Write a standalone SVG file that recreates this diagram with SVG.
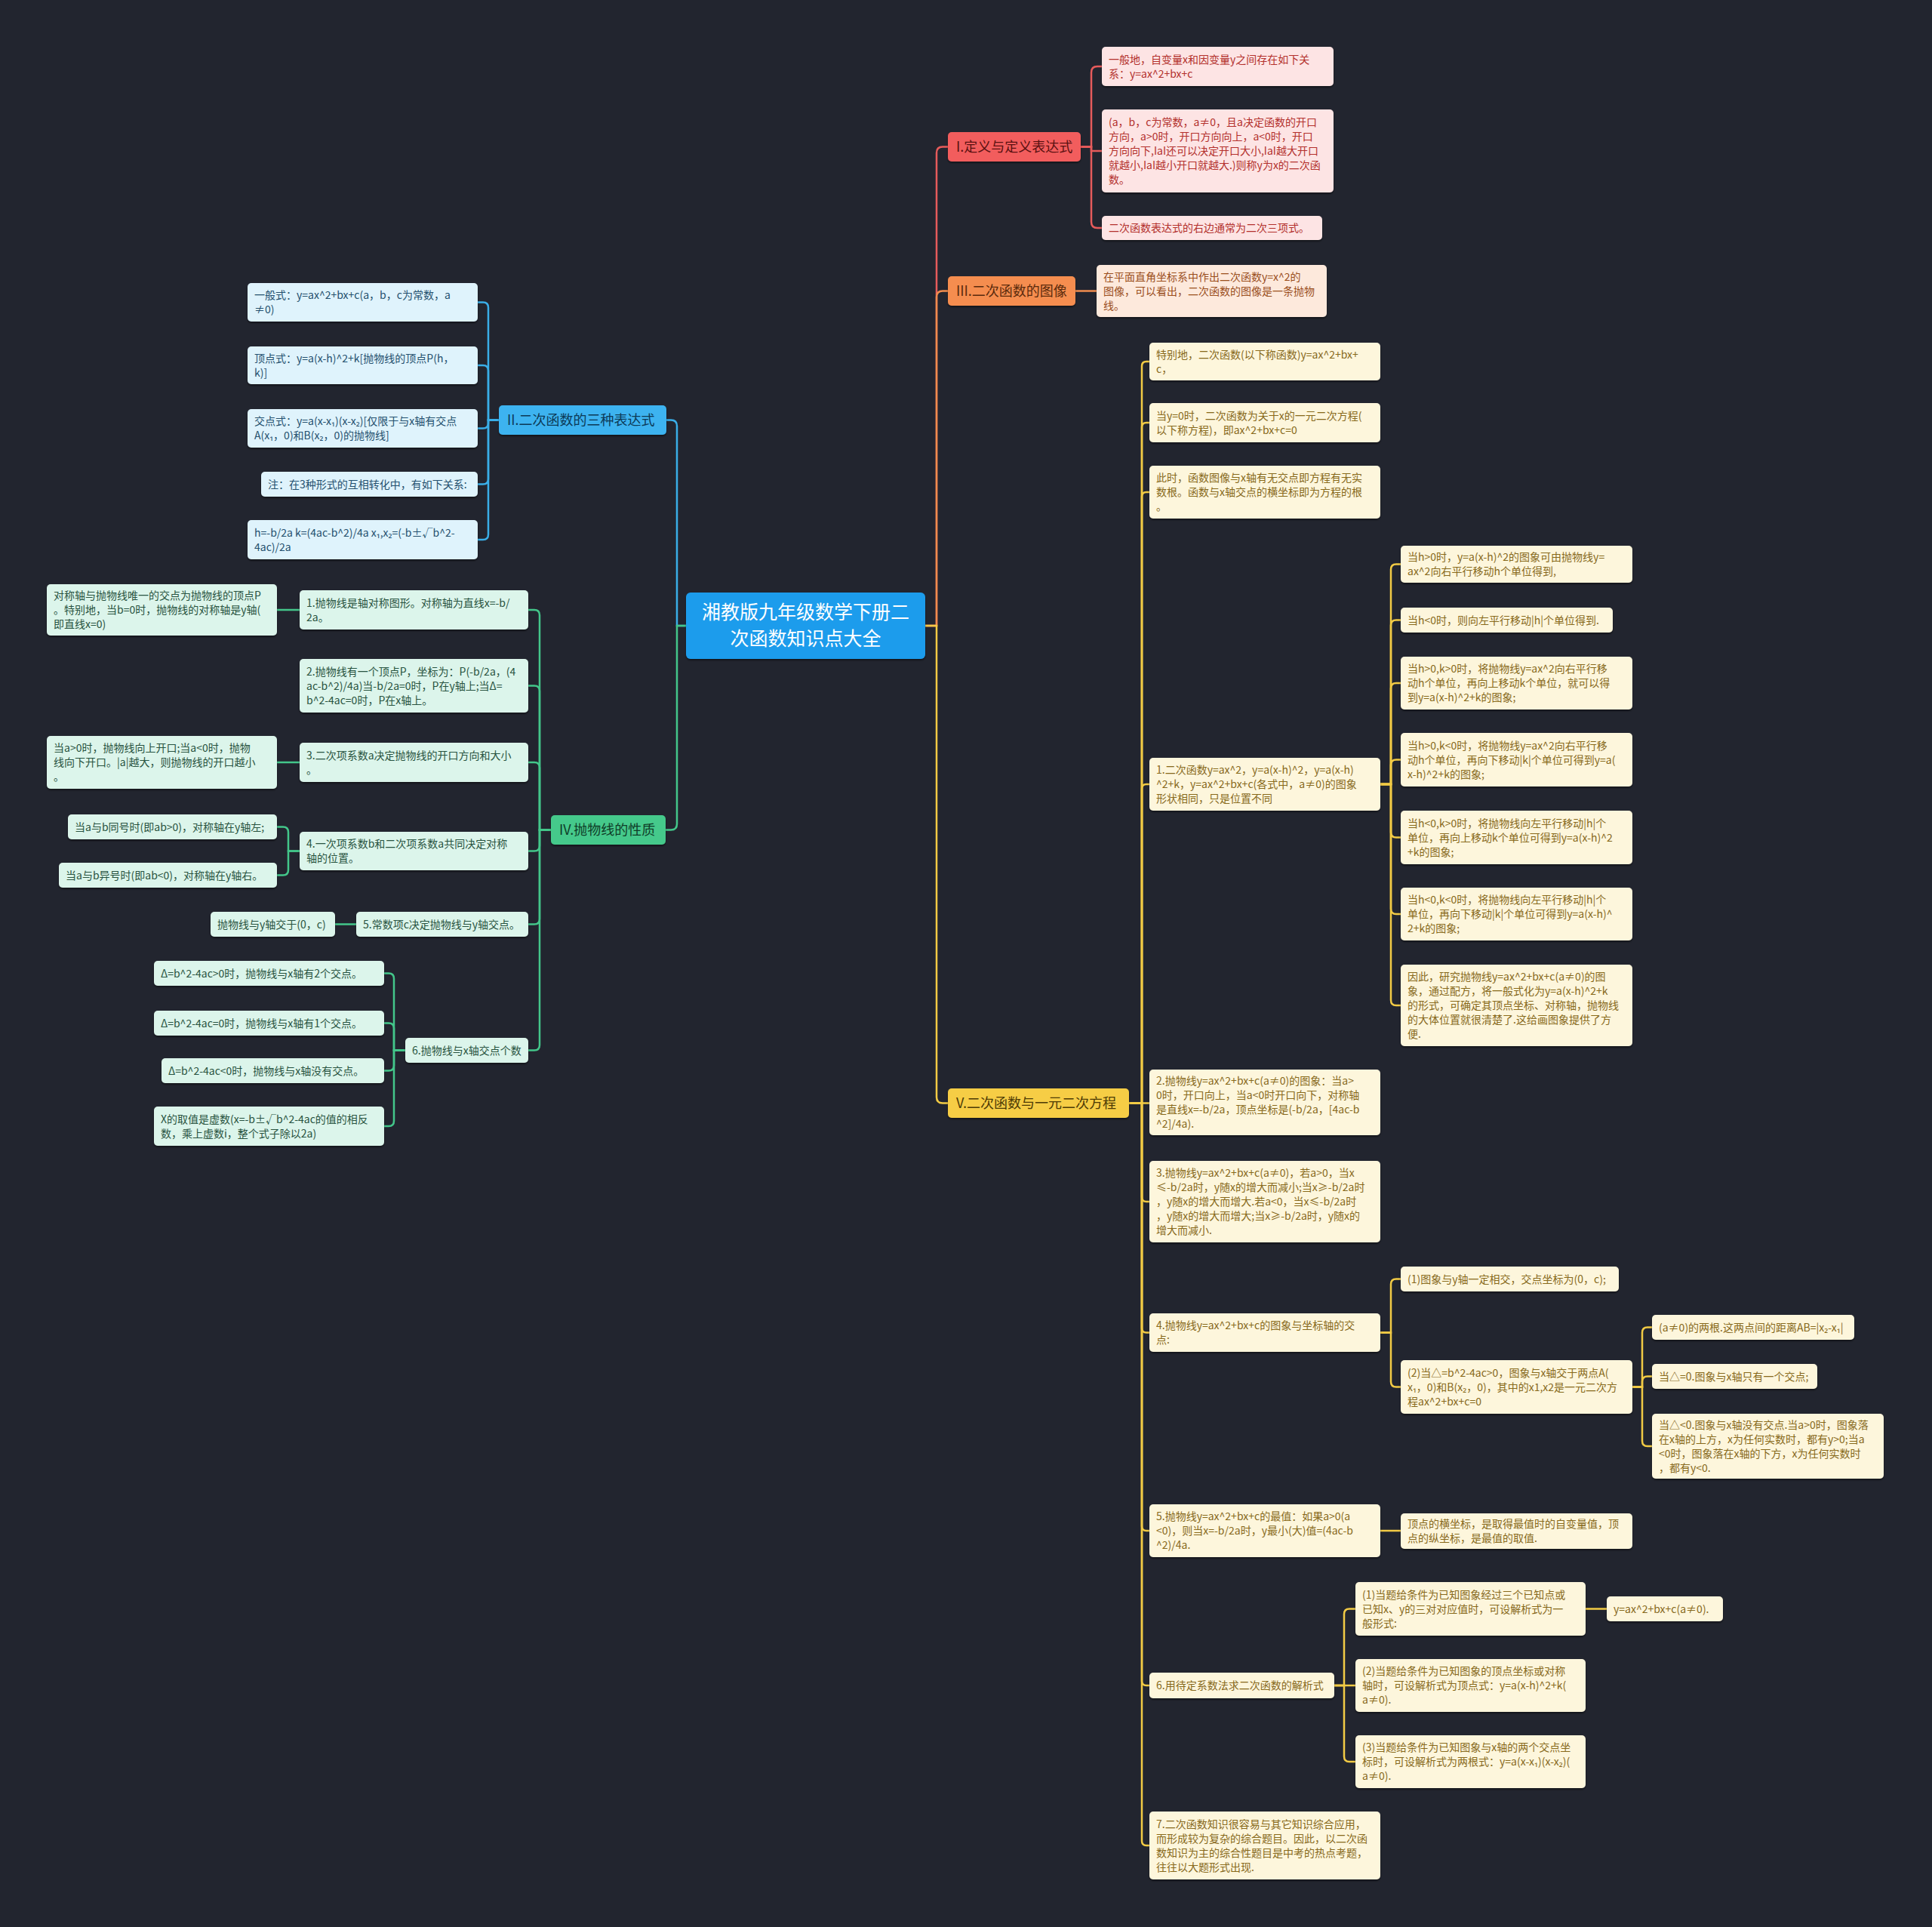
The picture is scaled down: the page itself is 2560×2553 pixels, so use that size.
<svg xmlns="http://www.w3.org/2000/svg" width="2560" height="2553" viewBox="0 0 2560 2553">
<defs>
<filter id="sh" x="-5%" y="-20%" width="110%" height="150%"><feDropShadow dx="0" dy="2" stdDeviation="1.2" flood-color="#000" flood-opacity="0.45"/></filter>
<style>
text{font-family:"Noto Sans CJK SC","Noto Sans",sans-serif;font-size:14px}
rect{filter:url(#sh)}
.m{font-size:18px}
.root text{font-size:25px;fill:#ffffff;text-anchor:middle}
.cn path{fill:none;stroke-width:2.5;stroke-linecap:round}
.lr{stroke:#e65b5b}.lo{stroke:#f08c4e}.ly{stroke:#f2cb45}.lb{stroke:#3aaee8}.lg{stroke:#43c68a}
.br rect{fill:#f25d5d}.br text{fill:#5a1111}
.bo rect{fill:#f58d4f}.bo text{fill:#5a2a0c}
.by rect{fill:#f6cd45}.by text{fill:#4d3b05}
.bb rect{fill:#3cb3f0}.bb text{fill:#0c3a57}
.bg rect{fill:#44c98b}.bg text{fill:#0f3d28}
.cr rect{fill:#fde4e4}.cr text{fill:#b3302c}
.co rect{fill:#fde9dc}.co text{fill:#9a4e1c}
.cy rect{fill:#fdf6dc}.cy text{fill:#87691b}
.cb rect{fill:#dff3fc}.cb text{fill:#24506e}
.cg rect{fill:#dcf5eb}.cg text{fill:#285340}
</style>
</defs>
<rect x="0" y="0" width="2560" height="2553" fill="#22252f" style="filter:none"/>

<g id="connectors" class="cn">
<path class="lr" d="M1226 829 H1241 V202.5 Q1241 194.5 1249 194.5 H1256"/>
<path class="lo" d="M1226 829 H1241 V393.5 Q1241 385.5 1249 385.5 H1256"/>
<path class="ly" d="M1226 829 H1241 V1453.5 Q1241 1461.5 1249 1461.5 H1256"/>
<path class="lb" d="M909 829 H897 V564.5 Q897 556.5 889 556.5 H883"/>
<path class="lg" d="M909 829 H897 V1091.5 Q897 1099.5 889 1099.5 H882"/>

<path class="lr" d="M1432 194.5 H1446 V96 Q1446 88 1454 88 H1460"/>
<path class="lr" d="M1432 194.5 H1446 V200 H1460"/>
<path class="lr" d="M1432 194.5 H1446 V294 Q1446 302 1454 302 H1460"/>
<path class="lo" d="M1425 385.5 H1453"/>

<path class="ly" d="M1496 1461.5 H1513 V485 Q1513 479 1519 479 H1523"/>
<path class="ly" d="M1496 1461.5 H1513 V566 Q1513 560 1519 560 H1523"/>
<path class="ly" d="M1496 1461.5 H1513 V658 Q1513 652 1519 652 H1523"/>
<path class="ly" d="M1496 1461.5 H1513 V1045 Q1513 1039 1519 1039 H1523"/>
<path class="ly" d="M1496 1461.5 H1523"/>
<path class="ly" d="M1496 1461.5 H1513 V1586 Q1513 1592 1519 1592 H1523"/>
<path class="ly" d="M1496 1461.5 H1513 V1759.5 Q1513 1765.5 1519 1765.5 H1523"/>
<path class="ly" d="M1496 1461.5 H1513 V2022 Q1513 2028 1519 2028 H1523"/>
<path class="ly" d="M1496 1461.5 H1513 V2227 Q1513 2233 1519 2233 H1523"/>
<path class="ly" d="M1496 1461.5 H1513 V2439 Q1513 2445 1519 2445 H1523"/>

<path class="ly" d="M1829 1039 H1843 V754.5 Q1843 747.5 1850 747.5 H1856"/>
<path class="ly" d="M1829 1039 H1843 V828.5 Q1843 821.5 1850 821.5 H1856"/>
<path class="ly" d="M1829 1039 H1843 V912 Q1843 905 1850 905 H1856"/>
<path class="ly" d="M1829 1039 H1843 V1013.5 Q1843 1006.5 1850 1006.5 H1856"/>
<path class="ly" d="M1829 1039 H1843 V1102.5 Q1843 1109.5 1850 1109.5 H1856"/>
<path class="ly" d="M1829 1039 H1843 V1204 Q1843 1211 1850 1211 H1856"/>
<path class="ly" d="M1829 1039 H1843 V1325 Q1843 1332 1850 1332 H1856"/>

<path class="ly" d="M1829 1765.5 H1843 V1701.5 Q1843 1694.5 1850 1694.5 H1856"/>
<path class="ly" d="M1829 1765.5 H1843 V1830.5 Q1843 1837.5 1850 1837.5 H1856"/>
<path class="ly" d="M2163 1837.5 H2176 V1765.5 Q2176 1758.5 2183 1758.5 H2189"/>
<path class="ly" d="M2163 1837.5 H2176 V1830.5 Q2176 1823.5 2183 1823.5 H2189"/>
<path class="ly" d="M2163 1837.5 H2176 V1909 Q2176 1916 2183 1916 H2189"/>

<path class="ly" d="M1829 2028 H1856"/>
<path class="ly" d="M1768 2233 H1781 V2138.5 Q1781 2131.5 1788 2131.5 H1796"/>
<path class="ly" d="M1768 2233 H1796"/>
<path class="ly" d="M1768 2233 H1781 V2327 Q1781 2334 1788 2334 H1796"/>
<path class="ly" d="M2101 2131.5 H2129"/>

<path class="lb" d="M661 556.5 H647 V407.5 Q647 400.5 640 400.5 H633"/>
<path class="lb" d="M661 556.5 H647 V491 Q647 484 640 484 H633"/>
<path class="lb" d="M661 556.5 H647 V560.5 Q647 567.5 640 567.5 H633"/>
<path class="lb" d="M661 556.5 H647 V634.5 Q647 641.5 640 641.5 H633"/>
<path class="lb" d="M661 556.5 H647 V708 Q647 715 640 715 H633"/>

<path class="lg" d="M730 1099.5 H715 V815 Q715 808 708 808 H700"/>
<path class="lg" d="M730 1099.5 H715 V915.5 Q715 908.5 708 908.5 H700"/>
<path class="lg" d="M730 1099.5 H715 V1017 Q715 1010 708 1010 H700"/>
<path class="lg" d="M730 1099.5 H715 V1120.5 Q715 1127.5 708 1127.5 H700"/>
<path class="lg" d="M730 1099.5 H715 V1217.5 Q715 1224.5 708 1224.5 H700"/>
<path class="lg" d="M730 1099.5 H715 V1384.5 Q715 1391.5 708 1391.5 H700"/>
<path class="lg" d="M397 808 H367"/>
<path class="lg" d="M397 1010 H367"/>
<path class="lg" d="M397 1127.5 H382 V1102.5 Q382 1095.5 375 1095.5 H367"/>
<path class="lg" d="M397 1127.5 H382 V1152.5 Q382 1159.5 375 1159.5 H367"/>
<path class="lg" d="M472 1224.5 H444"/>
<path class="lg" d="M537 1391.5 H522 V1296.5 Q522 1289.5 515 1289.5 H509"/>
<path class="lg" d="M537 1391.5 H522 V1362.5 Q522 1355.5 515 1355.5 H509"/>
<path class="lg" d="M537 1391.5 H522 V1411.5 Q522 1418.5 515 1418.5 H509"/>
<path class="lg" d="M537 1391.5 H522 V1485 Q522 1492 515 1492 H509"/>
</g>

<g id="root" class="root"><rect x="909" y="785" width="317" height="88" rx="6" fill="#1f9cec"/><text><tspan x="1067.5" y="820">湘教版九年级数学下册二</tspan><tspan x="1067.5" y="855">次函数知识点大全</tspan></text></g>

<g id="b1" class="br"><rect x="1256" y="175" width="176" height="39" rx="5"/><text class="m" x="1267" y="201">I.定义与定义表达式</text></g>
<g id="b1-1" class="cr"><rect x="1460" y="62" width="307" height="52" rx="5"/><text><tspan x="1469" y="83.5">一般地，自变量x和因变量y之间存在如下关</tspan><tspan x="1469" y="102.5">系：y=ax^2+bx+c</tspan></text></g>
<g id="b1-2" class="cr"><rect x="1460" y="145" width="307" height="110" rx="5"/><text><tspan x="1469" y="167">(a，b，c为常数，a≠0，且a决定函数的开口</tspan><tspan x="1469" y="186">方向，a&gt;0时，开口方向向上，a&lt;0时，开口</tspan><tspan x="1469" y="205">方向向下,IaI还可以决定开口大小,IaI越大开口</tspan><tspan x="1469" y="224">就越小,IaI越小开口就越大.)则称y为x的二次函</tspan><tspan x="1469" y="243">数。</tspan></text></g>
<g id="b1-3" class="cr"><rect x="1460" y="286" width="292" height="32" rx="5"/><text x="1469" y="307">二次函数表达式的右边通常为二次三项式。</text></g>

<g id="b3" class="bo"><rect x="1256" y="366" width="169" height="39" rx="5"/><text class="m" x="1267" y="392">III.二次函数的图像</text></g>
<g id="b3-1" class="co"><rect x="1453" y="351" width="305" height="69" rx="5"/><text><tspan x="1462" y="371.5">在平面直角坐标系中作出二次函数y=x^2的</tspan><tspan x="1462" y="390.5">图像，可以看出，二次函数的图像是一条抛物</tspan><tspan x="1462" y="409.5">线。</tspan></text></g>

<g id="b5" class="by"><rect x="1256" y="1442" width="240" height="39" rx="5"/><text class="m" x="1267" y="1468">V.二次函数与一元二次方程</text></g>
<g id="b5-1" class="cy"><rect x="1523" y="454" width="306" height="50" rx="5"/><text><tspan x="1532" y="474.5">特别地，二次函数(以下称函数)y=ax^2+bx+</tspan><tspan x="1532" y="493.5">c，</tspan></text></g>
<g id="b5-2" class="cy"><rect x="1523" y="534" width="306" height="52" rx="5"/><text><tspan x="1532" y="555.5">当y=0时，二次函数为关于x的一元二次方程(</tspan><tspan x="1532" y="574.5">以下称方程)，即ax^2+bx+c=0</tspan></text></g>
<g id="b5-3" class="cy"><rect x="1523" y="617" width="306" height="70" rx="5"/><text><tspan x="1532" y="638">此时，函数图像与x轴有无交点即方程有无实</tspan><tspan x="1532" y="657">数根。函数与x轴交点的横坐标即为方程的根</tspan><tspan x="1532" y="676">。</tspan></text></g>
<g id="b5-4" class="cy"><rect x="1523" y="1004" width="306" height="70" rx="5"/><text><tspan x="1532" y="1025">1.二次函数y=ax^2，y=a(x-h)^2，y=a(x-h)</tspan><tspan x="1532" y="1044">^2+k，y=ax^2+bx+c(各式中，a≠0)的图象</tspan><tspan x="1532" y="1063">形状相同，只是位置不同</tspan></text></g>
<g id="b5-4-1" class="cy"><rect x="1856" y="723" width="307" height="49" rx="5"/><text><tspan x="1865" y="743">当h&gt;0时，y=a(x-h)^2的图象可由抛物线y=</tspan><tspan x="1865" y="762">ax^2向右平行移动h个单位得到,</tspan></text></g>
<g id="b5-4-2" class="cy"><rect x="1856" y="805" width="281" height="33" rx="5"/><text x="1865" y="826.5">当h&lt;0时，则向左平行移动|h|个单位得到.</text></g>
<g id="b5-4-3" class="cy"><rect x="1856" y="870" width="307" height="70" rx="5"/><text><tspan x="1865" y="891">当h&gt;0,k&gt;0时，将抛物线y=ax^2向右平行移</tspan><tspan x="1865" y="910">动h个单位，再向上移动k个单位，就可以得</tspan><tspan x="1865" y="929">到y=a(x-h)^2+k的图象;</tspan></text></g>
<g id="b5-4-4" class="cy"><rect x="1856" y="971" width="307" height="71" rx="5"/><text><tspan x="1865" y="992.5">当h&gt;0,k&lt;0时，将抛物线y=ax^2向右平行移</tspan><tspan x="1865" y="1011.5">动h个单位，再向下移动|k|个单位可得到y=a(</tspan><tspan x="1865" y="1030.5">x-h)^2+k的图象;</tspan></text></g>
<g id="b5-4-5" class="cy"><rect x="1856" y="1074" width="307" height="71" rx="5"/><text><tspan x="1865" y="1095.5">当h&lt;0,k&gt;0时，将抛物线向左平行移动|h|个</tspan><tspan x="1865" y="1114.5">单位，再向上移动k个单位可得到y=a(x-h)^2</tspan><tspan x="1865" y="1133.5">+k的图象;</tspan></text></g>
<g id="b5-4-6" class="cy"><rect x="1856" y="1176" width="307" height="70" rx="5"/><text><tspan x="1865" y="1197">当h&lt;0,k&lt;0时，将抛物线向左平行移动|h|个</tspan><tspan x="1865" y="1216">单位，再向下移动|k|个单位可得到y=a(x-h)^</tspan><tspan x="1865" y="1235">2+k的图象;</tspan></text></g>
<g id="b5-4-7" class="cy"><rect x="1856" y="1278" width="307" height="108" rx="5"/><text><tspan x="1865" y="1299">因此，研究抛物线y=ax^2+bx+c(a≠0)的图</tspan><tspan x="1865" y="1318">象，通过配方，将一般式化为y=a(x-h)^2+k</tspan><tspan x="1865" y="1337">的形式，可确定其顶点坐标、对称轴，抛物线</tspan><tspan x="1865" y="1356">的大体位置就很清楚了.这给画图象提供了方</tspan><tspan x="1865" y="1375">便.</tspan></text></g>
<g id="b5-5" class="cy"><rect x="1523" y="1417" width="306" height="87" rx="5"/><text><tspan x="1532" y="1437">2.抛物线y=ax^2+bx+c(a≠0)的图象：当a&gt;</tspan><tspan x="1532" y="1456">0时，开口向上，当a&lt;0时开口向下，对称轴</tspan><tspan x="1532" y="1475">是直线x=-b/2a，顶点坐标是(-b/2a，[4ac-b</tspan><tspan x="1532" y="1494">^2]/4a).</tspan></text></g>
<g id="b5-6" class="cy"><rect x="1523" y="1538" width="306" height="108" rx="5"/><text><tspan x="1532" y="1559">3.抛物线y=ax^2+bx+c(a≠0)，若a&gt;0，当x</tspan><tspan x="1532" y="1578">≤-b/2a时，y随x的增大而减小;当x≥-b/2a时</tspan><tspan x="1532" y="1597">，y随x的增大而增大.若a&lt;0，当x≤-b/2a时</tspan><tspan x="1532" y="1616">，y随x的增大而增大;当x≥-b/2a时，y随x的</tspan><tspan x="1532" y="1635">增大而减小.</tspan></text></g>
<g id="b5-7" class="cy"><rect x="1523" y="1740" width="306" height="51" rx="5"/><text><tspan x="1532" y="1761">4.抛物线y=ax^2+bx+c的图象与坐标轴的交</tspan><tspan x="1532" y="1780">点:</tspan></text></g>
<g id="b5-7-1" class="cy"><rect x="1856" y="1678" width="289" height="33" rx="5"/><text x="1865" y="1699.5">(1)图象与y轴一定相交，交点坐标为(0，c);</text></g>
<g id="b5-7-2" class="cy"><rect x="1856" y="1802" width="307" height="71" rx="5"/><text><tspan x="1865" y="1823.5">(2)当△=b^2-4ac&gt;0，图象与x轴交于两点A(</tspan><tspan x="1865" y="1842.5">x₁，0)和B(x₂，0)，其中的x1,x2是一元二次方</tspan><tspan x="1865" y="1861.5">程ax^2+bx+c=0</tspan></text></g>
<g id="b5-7-2-1" class="cy"><rect x="2189" y="1742" width="268" height="33" rx="5"/><text x="2198" y="1763.5">(a≠0)的两根.这两点间的距离AB=|x₂-x₁|</text></g>
<g id="b5-7-2-2" class="cy"><rect x="2189" y="1807" width="219" height="33" rx="5"/><text x="2198" y="1828.5">当△=0.图象与x轴只有一个交点;</text></g>
<g id="b5-7-2-3" class="cy"><rect x="2189" y="1873" width="307" height="86" rx="5"/><text><tspan x="2198" y="1892.5">当△&lt;0.图象与x轴没有交点.当a&gt;0时，图象落</tspan><tspan x="2198" y="1911.5">在x轴的上方，x为任何实数时，都有y&gt;0;当a</tspan><tspan x="2198" y="1930.5">&lt;0时，图象落在x轴的下方，x为任何实数时</tspan><tspan x="2198" y="1949.5">，都有y&lt;0.</tspan></text></g>
<g id="b5-8" class="cy"><rect x="1523" y="1993" width="306" height="70" rx="5"/><text><tspan x="1532" y="2014">5.抛物线y=ax^2+bx+c的最值：如果a&gt;0(a</tspan><tspan x="1532" y="2033">&lt;0)，则当x=-b/2a时，y最小(大)值=(4ac-b</tspan><tspan x="1532" y="2052">^2)/4a.</tspan></text></g>
<g id="b5-8-1" class="cy"><rect x="1856" y="2005" width="307" height="47" rx="5"/><text><tspan x="1865" y="2023.5">顶点的横坐标，是取得最值时的自变量值，顶</tspan><tspan x="1865" y="2042.5">点的纵坐标，是最值的取值.</tspan></text></g>
<g id="b5-9" class="cy"><rect x="1523" y="2216" width="245" height="34" rx="5"/><text x="1532" y="2238">6.用待定系数法求二次函数的解析式</text></g>
<g id="b5-9-1" class="cy"><rect x="1796" y="2096" width="305" height="71" rx="5"/><text><tspan x="1805" y="2117.5">(1)当题给条件为已知图象经过三个已知点或</tspan><tspan x="1805" y="2136.5">已知x、y的三对对应值时，可设解析式为一</tspan><tspan x="1805" y="2155.5">般形式:</tspan></text></g>
<g id="b5-9-1-1" class="cy"><rect x="2129" y="2115" width="154" height="33" rx="5"/><text x="2138" y="2136.5">y=ax^2+bx+c(a≠0).</text></g>
<g id="b5-9-2" class="cy"><rect x="1796" y="2198" width="305" height="70" rx="5"/><text><tspan x="1805" y="2219">(2)当题给条件为已知图象的顶点坐标或对称</tspan><tspan x="1805" y="2238">轴时，可设解析式为顶点式：y=a(x-h)^2+k(</tspan><tspan x="1805" y="2257">a≠0).</tspan></text></g>
<g id="b5-9-3" class="cy"><rect x="1796" y="2299" width="305" height="70" rx="5"/><text><tspan x="1805" y="2320">(3)当题给条件为已知图象与x轴的两个交点坐</tspan><tspan x="1805" y="2339">标时，可设解析式为两根式：y=a(x-x₁)(x-x₂)(</tspan><tspan x="1805" y="2358">a≠0).</tspan></text></g>
<g id="b5-10" class="cy"><rect x="1523" y="2400" width="306" height="90" rx="5"/><text><tspan x="1532" y="2421.5">7.二次函数知识很容易与其它知识综合应用，</tspan><tspan x="1532" y="2440.5">而形成较为复杂的综合题目。因此，以二次函</tspan><tspan x="1532" y="2459.5">数知识为主的综合性题目是中考的热点考题，</tspan><tspan x="1532" y="2478.5">往往以大题形式出现.</tspan></text></g>

<g id="b2" class="bb"><rect x="661" y="537" width="222" height="39" rx="5"/><text class="m" x="672" y="563">II.二次函数的三种表达式</text></g>
<g id="b2-1" class="cb"><rect x="328" y="375" width="305" height="51" rx="5"/><text><tspan x="337" y="396">一般式：y=ax^2+bx+c(a，b，c为常数，a</tspan><tspan x="337" y="415">≠0)</tspan></text></g>
<g id="b2-2" class="cb"><rect x="328" y="459" width="305" height="50" rx="5"/><text><tspan x="337" y="479.5">顶点式：y=a(x-h)^2+k[抛物线的顶点P(h，</tspan><tspan x="337" y="498.5">k)]</tspan></text></g>
<g id="b2-3" class="cb"><rect x="328" y="542" width="305" height="51" rx="5"/><text><tspan x="337" y="563">交点式：y=a(x-x₁)(x-x₂)[仅限于与x轴有交点</tspan><tspan x="337" y="582">A(x₁，0)和B(x₂，0)的抛物线]</tspan></text></g>
<g id="b2-4" class="cb"><rect x="346" y="625" width="287" height="33" rx="5"/><text x="355" y="646.5">注：在3种形式的互相转化中，有如下关系:</text></g>
<g id="b2-5" class="cb"><rect x="328" y="689" width="305" height="52" rx="5"/><text><tspan x="337" y="710.5">h=-b/2a k=(4ac-b^2)/4a x₁,x₂=(-b±√b^2-</tspan><tspan x="337" y="729.5">4ac)/2a</tspan></text></g>

<g id="b4" class="bg"><rect x="730" y="1080" width="152" height="39" rx="5"/><text class="m" x="741" y="1106">IV.抛物线的性质</text></g>
<g id="b4-1" class="cg"><rect x="397" y="782" width="303" height="52" rx="5"/><text><tspan x="406" y="803.5">1.抛物线是轴对称图形。对称轴为直线x=-b/</tspan><tspan x="406" y="822.5">2a。</tspan></text></g>
<g id="b4-1-1" class="cg"><rect x="62" y="774" width="305" height="68" rx="5"/><text><tspan x="71" y="794">对称轴与抛物线唯一的交点为抛物线的顶点P</tspan><tspan x="71" y="813">。特别地，当b=0时，抛物线的对称轴是y轴(</tspan><tspan x="71" y="832">即直线x=0)</tspan></text></g>
<g id="b4-2" class="cg"><rect x="397" y="873" width="303" height="71" rx="5"/><text><tspan x="406" y="894.5">2.抛物线有一个顶点P，坐标为：P(-b/2a，(4</tspan><tspan x="406" y="913.5">ac-b^2)/4a)当-b/2a=0时，P在y轴上;当Δ=</tspan><tspan x="406" y="932.5">b^2-4ac=0时，P在x轴上。</tspan></text></g>
<g id="b4-3" class="cg"><rect x="397" y="984" width="303" height="52" rx="5"/><text><tspan x="406" y="1005.5">3.二次项系数a决定抛物线的开口方向和大小</tspan><tspan x="406" y="1024.5">。</tspan></text></g>
<g id="b4-3-1" class="cg"><rect x="62" y="975" width="305" height="70" rx="5"/><text><tspan x="71" y="996">当a&gt;0时，抛物线向上开口;当a&lt;0时，抛物</tspan><tspan x="71" y="1015">线向下开口。|a|越大，则抛物线的开口越小</tspan><tspan x="71" y="1034">。</tspan></text></g>
<g id="b4-4" class="cg"><rect x="397" y="1102" width="303" height="51" rx="5"/><text><tspan x="406" y="1123">4.一次项系数b和二次项系数a共同决定对称</tspan><tspan x="406" y="1142">轴的位置。</tspan></text></g>
<g id="b4-4-1" class="cg"><rect x="90" y="1079" width="277" height="33" rx="5"/><text x="99" y="1100.5">当a与b同号时(即ab&gt;0)，对称轴在y轴左;</text></g>
<g id="b4-4-2" class="cg"><rect x="78" y="1143" width="289" height="33" rx="5"/><text x="87" y="1164.5">当a与b异号时(即ab&lt;0)，对称轴在y轴右。</text></g>
<g id="b4-5" class="cg"><rect x="472" y="1208" width="228" height="33" rx="5"/><text x="481" y="1229.5">5.常数项c决定抛物线与y轴交点。</text></g>
<g id="b4-5-1" class="cg"><rect x="279" y="1208" width="165" height="33" rx="5"/><text x="288" y="1229.5">抛物线与y轴交于(0，c)</text></g>
<g id="b4-6" class="cg"><rect x="537" y="1375" width="163" height="33" rx="5"/><text x="546" y="1396.5">6.抛物线与x轴交点个数</text></g>
<g id="b4-6-1" class="cg"><rect x="204" y="1273" width="305" height="33" rx="5"/><text x="213" y="1294.5">Δ=b^2-4ac&gt;0时，抛物线与x轴有2个交点。</text></g>
<g id="b4-6-2" class="cg"><rect x="204" y="1339" width="305" height="33" rx="5"/><text x="213" y="1360.5">Δ=b^2-4ac=0时，抛物线与x轴有1个交点。</text></g>
<g id="b4-6-3" class="cg"><rect x="214" y="1402" width="295" height="33" rx="5"/><text x="223" y="1423.5">Δ=b^2-4ac&lt;0时，抛物线与x轴没有交点。</text></g>
<g id="b4-6-4" class="cg"><rect x="204" y="1466" width="305" height="52" rx="5"/><text><tspan x="213" y="1487.5">X的取值是虚数(x=-b±√b^2-4ac的值的相反</tspan><tspan x="213" y="1506.5">数，乘上虚数i，整个式子除以2a)</tspan></text></g>
</svg>
